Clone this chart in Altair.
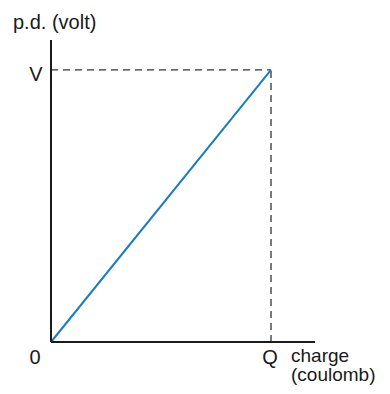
import altair as alt
import pandas as pd

# Data (symbolic units: Q = 1 coulomb-unit, V = 1 volt-unit)
charge = [0, 1]
pd_volt = [0, 1]
x_domain = [0, 1.2]
y_domain = [0, 1.11]

Q = charge[1]
V = pd_volt[1]

line_df = pd.DataFrame({"charge": charge, "pd": pd_volt})
dash_h_df = pd.DataFrame({"charge": [0, Q], "pd": [V, V]})
dash_v_df = pd.DataFrame({"charge": [Q, Q], "pd": [0, V]})
x_axis_df = pd.DataFrame({"charge": [x_domain[0], x_domain[1]], "pd": [0, 0]})
y_axis_df = pd.DataFrame({"charge": [0, 0], "pd": [y_domain[0], y_domain[1]]})

FONT = "Liberation Sans"
FS = 20

xs = alt.Scale(domain=x_domain, nice=False, zero=True)
ys = alt.Scale(domain=y_domain, nice=False, zero=True)


def seg(df, color, width, dash=None):
    kw = dict(color=color, strokeWidth=width, strokeCap="butt")
    if dash:
        kw["strokeDash"] = dash
    return alt.Chart(df).mark_line(**kw).encode(
        x=alt.X("charge:Q", scale=xs, axis=None),
        y=alt.Y("pd:Q", scale=ys, axis=None),
    )


line = seg(line_df, "#1a7dc4", 2)
dash_h = seg(dash_h_df, "#333333", 1.3, [7, 5])
dash_v = seg(dash_v_df, "#333333", 1.3, [7, 5])
x_axis = seg(x_axis_df, "#1a1a1a", 2)
y_axis = seg(y_axis_df, "#1a1a1a", 2)


def label(text, xv, yv, dx, dy, align="center", fs=FS, baseline="middle"):
    df = pd.DataFrame({"charge": [xv], "pd": [yv], "t": [text]})
    return alt.Chart(df).mark_text(
        font=FONT, fontSize=fs, color="#1a1a1a", align=align, baseline=baseline,
        dx=dx, dy=dy,
    ).encode(
        x=alt.X("charge:Q", scale=xs, axis=None),
        y=alt.Y("pd:Q", scale=ys, axis=None),
        text="t:N",
    )


labels = [
    label("p.d. (volt)", 0, y_domain[1], -38, -17, "left"),
    label("V", 0, V, -15, 5),
    label("0", 0, 0, -16, 16),
    label("Q", Q, 0, -1, 16),
    label("charge", Q, 0, 20, 20, "left", 19, "alphabetic"),
    label("(coulomb)", Q, 0, 20, 39, "left", 19, "alphabetic"),
]

chart = alt.layer(dash_h, dash_v, line, x_axis, y_axis, *labels).properties(
    width=264, height=302,
    autosize=alt.AutoSizeParams(type="none"),
    padding={"left": 43, "top": 32, "right": 67, "bottom": 44},
).configure_view(stroke=None)

chart.save("out.html", embed_options={"renderer": "svg", "actions": False})
